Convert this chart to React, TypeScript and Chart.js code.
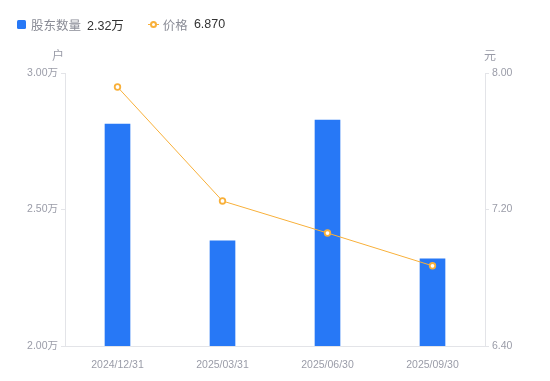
import React, { useEffect, useRef } from "react";
import { Chart, registerables } from "chart.js";

Chart.register(...registerables);

const categories = ["2024/12/31", "2025/03/31", "2025/06/30", "2025/09/30"];
const holders = [2.813, 2.385, 2.828, 2.319];
const prices = [7.918, 7.25, 7.062, 6.87];
const leftTicks = [2.0, 2.5, 3.0];
const rightTicks = [6.4, 7.2, 8.0];

const FONT = "'Liberation Sans', 'Noto Sans CJK SC', sans-serif";
const LABEL = "#9a9ca8";
const AXIS = "#e3e4e8";
const BLUE = "#2778f6";
const ORANGE = "#f8b03a";

const axisTitles = {
  id: "axisTitles",
  afterDraw(chart: any) {
    const { ctx, chartArea } = chart;
    ctx.save();
    ctx.font = `12px ${FONT}`;
    ctx.fillStyle = LABEL;
    ctx.textBaseline = "middle";
    ctx.textAlign = "center";
    ctx.fillText("户", chartArea.left - 7, chartArea.top - 16);
    ctx.fillText("元", chartArea.right + 5, chartArea.top - 16);
    ctx.restore();
  },
};

export default function App() {
  const ref = useRef<HTMLCanvasElement>(null);
  useEffect(() => {
    const chart = new Chart(ref.current!, {
      type: "bar",
      data: {
        labels: categories,
        datasets: [
          {
            type: "bar",
            label: "股东数量",
            data: holders,
            backgroundColor: BLUE,
            barThickness: 25,
            yAxisID: "y",
            order: 2,
          },
          {
            type: "line",
            label: "价格",
            data: prices,
            borderColor: ORANGE,
            borderWidth: 1,
            pointRadius: 2.8,
            pointBorderWidth: 1.8,
            pointBackgroundColor: "#ffffff",
            pointBorderColor: ORANGE,
            tension: 0,
            yAxisID: "y1",
            order: 1,
          } as any,
        ],
      },
      options: {
        responsive: false,
        animation: false,
        layout: { padding: { top: 73, left: 0, right: 0, bottom: 0 } },
        plugins: { legend: { display: false }, tooltip: { enabled: false } },
        scales: {
          x: {
            grid: { display: false },
            border: { display: true, color: AXIS },
            ticks: { color: LABEL, font: { size: 10.5, family: FONT }, padding: 5, maxRotation: 0 },
            afterFit: (s: any) => { s.height = 35; },
          },
          y: {
            position: "left",
            min: 2,
            max: 3,
            afterBuildTicks: (s: any) => { s.ticks = leftTicks.map((v) => ({ value: v })); },
            grid: { drawOnChartArea: false, tickLength: 4, color: AXIS },
            border: { display: true, color: AXIS },
            ticks: {
              color: LABEL,
              font: { size: 10.5, family: FONT },
              padding: 3,
              callback: (v: any) => Number(v).toFixed(2) + "万",
            },
            afterFit: (s: any) => { s.width = 65; },
          },
          y1: {
            position: "right",
            min: 6.4,
            max: 8.0,
            afterBuildTicks: (s: any) => { s.ticks = rightTicks.map((v) => ({ value: v })); },
            grid: { drawOnChartArea: false, tickLength: 4, color: AXIS },
            border: { display: true, color: AXIS },
            ticks: {
              color: LABEL,
              font: { size: 10.5, family: FONT },
              padding: 3,
              callback: (v: any) => Number(v).toFixed(2),
            },
            afterFit: (s: any) => { s.width = 65; },
          },
        },
      },
      plugins: [axisTitles],
    });
    return () => chart.destroy();
  }, []);

  return (
    <div style={{ position: "fixed", left: 0, top: 0, width: 550, height: 381, background: "#fff", fontFamily: FONT }}>
      <canvas ref={ref} width={550} height={381} style={{ position: "absolute", left: 0, top: 0 }} />
      <div style={{ position: "absolute", left: 17, top: 15, height: 18, display: "flex", alignItems: "center", fontSize: 12.5, whiteSpace: "nowrap" }}>
        <span style={{ width: 9, height: 9, background: BLUE, borderRadius: 1.5, display: "inline-block", marginRight: 5 }} />
        <span style={{ color: "#8a8c96" }}>股东数量</span>
        <span style={{ color: "#333", marginLeft: 6 }}>2.32万</span>
        <span style={{ position: "relative", width: 11, height: 9, marginLeft: 24, marginRight: 4, display: "inline-block" }}>
          <span style={{ position: "absolute", left: 0, right: 0, top: 4, height: 1, background: ORANGE }} />
          <span style={{ position: "absolute", left: 2.5, top: 1, width: 3, height: 3, border: `2px solid ${ORANGE}`, borderRadius: "50%", background: "#fff" }} />
        </span>
        <span style={{ color: "#8a8c96" }}>价格</span>
        <span style={{ color: "#333", marginLeft: 6 }}>6.870</span>
      </div>
    </div>
  );
}
